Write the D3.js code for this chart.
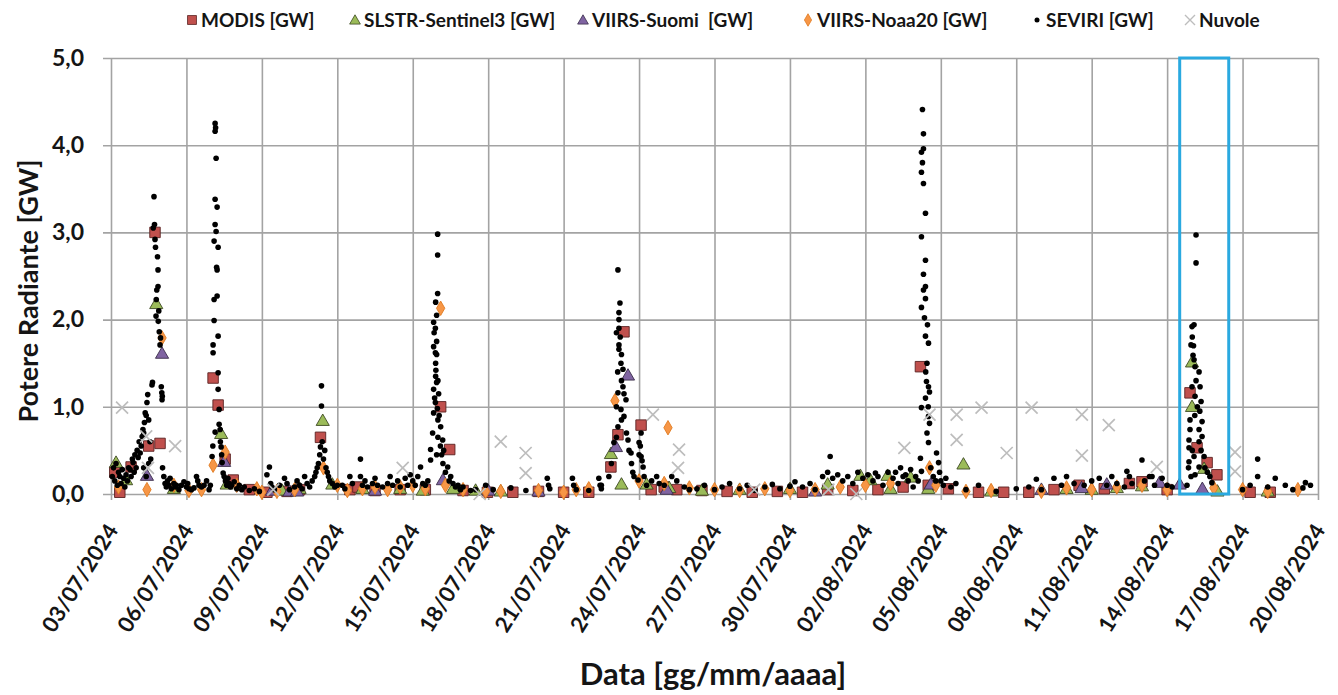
<!DOCTYPE html>
<html><head><meta charset="utf-8">
<script src="https://cdn.jsdelivr.net/npm/d3@7"></script>
<style>
html,body{margin:0;padding:0;background:#fff;}
svg text{font-family:Lato,"Liberation Sans",sans-serif;font-weight:700;fill:#151515;white-space:pre;}
</style></head>
<body><svg id="c" width="1338" height="695"></svg>
<script>
// ---------- DATA (day offsets from 03/07/2024 00:00, value in GW) ----------
const startDateStr = "03/07/2024";
const tickLabels = ["03/07/2024","06/07/2024","09/07/2024","12/07/2024","15/07/2024","18/07/2024","21/07/2024","24/07/2024","27/07/2024","30/07/2024","02/08/2024","05/08/2024","08/08/2024","11/08/2024","14/08/2024","17/08/2024","20/08/2024"];
const yTicks = [0,1,2,3,4,5];
const seriesNames = ["MODIS [GW]","SLSTR-Sentinel3 [GW]","VIIRS-Suomi  [GW]","VIIRS-Noaa20 [GW]","SEVIRI [GW]","Nuvole"];
const highlightRange = [42.5, 44.45];

const modis = [[0.15,0.25],[0.35,0.02],[0.8,0.31],[1.5,0.55],[1.95,0.58],[1.75,3.0],[4.06,1.33],[4.26,1.02],[4.54,0.4],[4.86,0.16],[5.5,0.05],[6.2,0.02],[7.0,0.03],[7.5,0.05],[8.33,0.65],[9.5,0.05],[9.82,0.08],[10.5,0.04],[11.5,0.05],[12.5,0.05],[13.11,1.0],[13.47,0.51],[14.0,0.04],[14.97,0.02],[15.98,0.02],[17.0,0.03],[18.0,0.02],[19.0,0.02],[19.88,0.31],[20.16,0.68],[20.4,1.86],[21.08,0.79],[21.48,0.05],[22.0,0.08],[22.5,0.05],[23.5,0.04],[24.5,0.03],[25.5,0.02],[26.5,0.03],[27.5,0.02],[28.5,0.05],[29.5,0.04],[30.5,0.05],[31.5,0.08],[32.19,1.46],[32.5,0.1],[33.3,0.06],[34.5,0.02],[35.5,0.02],[36.5,0.02],[37.5,0.05],[38.5,0.1],[39.5,0.06],[40.5,0.12],[41.0,0.14],[42.0,0.05],[42.91,1.16],[43.19,0.53],[43.59,0.36],[43.98,0.22],[45.3,0.02],[46.1,0.02]];

const slstr = [[0.2,0.35],[0.6,0.15],[1.8,2.17],[2.5,0.05],[4.38,0.68],[4.6,0.1],[6.8,0.03],[7.5,0.05],[8.42,0.83],[8.8,0.1],[10.0,0.05],[11.5,0.05],[12.4,0.03],[13.6,0.05],[14.5,0.03],[15.5,0.02],[19.88,0.45],[20.3,0.1],[21.3,0.1],[22.2,0.06],[23.5,0.03],[25.0,0.04],[27.0,0.05],[28.5,0.1],[29.8,0.2],[30.2,0.15],[30.88,0.2],[31.0,0.05],[31.8,0.18],[32.5,0.05],[33.9,0.33],[35.0,0.02],[38.0,0.05],[39.0,0.04],[40.0,0.06],[41.0,0.08],[42.99,1.5],[42.99,0.99],[43.47,0.28],[44.0,0.02],[46.0,0.02]];

const suomi = [[2.03,1.6],[1.43,0.2],[4.5,0.36],[6.4,0.03],[7.1,0.02],[7.4,0.02],[10.5,0.03],[13.2,0.15],[15.0,0.03],[17.0,0.02],[20.56,1.35],[20.08,0.53],[22.1,0.04],[28.0,0.02],[32.6,0.1],[37.0,0.04],[38.6,0.06],[39.6,0.1],[41.7,0.12],[42.5,0.1],[43.4,0.05]];

const noaa20 = [[0.3,0.08],[1.43,0.05],[2.03,1.79],[2.5,0.1],[3.1,0.04],[3.6,0.05],[4.06,0.33],[4.54,0.48],[5.0,0.1],[5.8,0.06],[6.0,0.02],[6.6,0.03],[7.3,0.05],[8.45,0.3],[9.0,0.1],[9.4,0.04],[10.0,0.06],[10.5,0.08],[11.0,0.05],[11.5,0.08],[12.0,0.1],[12.5,0.06],[13.11,2.13],[13.3,0.1],[14.0,0.05],[14.9,0.03],[15.5,0.03],[17.0,0.04],[18.0,0.02],[18.5,0.05],[19.0,0.06],[20.04,1.07],[21.0,0.15],[22.15,0.76],[22.0,0.12],[23.0,0.07],[24.0,0.05],[25.0,0.04],[26.0,0.06],[27.0,0.04],[28.0,0.05],[29.0,0.08],[30.0,0.1],[31.0,0.12],[32.55,0.3],[32.8,0.1],[34.0,0.03],[35.0,0.04],[37.0,0.03],[38.0,0.07],[39.0,0.05],[40.0,0.08],[41.0,0.1],[42.0,0.05],[43.86,0.07],[45.0,0.05],[46.0,0.03],[47.2,0.05]];

const seviri = [
[0.05,0.2],[0.1,0.3],[0.15,0.15],[0.2,0.35],[0.25,0.1],[0.3,0.25],[0.35,0.2],[0.4,0.12],[0.45,0.28],[0.5,0.18],[0.55,0.08],[0.6,0.22],[0.65,0.15],[0.7,0.3],[0.76,0.28],[0.8,0.2],[0.85,0.4],[0.88,0.36],[0.92,0.25],[0.95,0.45],[1.0,0.3],[1.04,0.5],[1.08,0.42],[1.12,0.6],[1.16,0.47],[1.2,0.55],[1.24,0.66],[1.27,0.74],[1.3,0.7],[1.33,0.82],[1.36,0.93],[1.4,0.9],[1.43,1.05],[1.46,1.14],[1.5,0.85],[1.55,0.6],[1.58,0.4],[1.3,0.3],[1.4,0.2],[1.5,0.35],[1.63,1.25],[1.65,1.28],[1.68,3.05],[1.71,3.41],[1.73,3.09],[1.75,2.92],[1.77,2.83],[1.79,2.04],[1.8,2.23],[1.82,2.34],[1.85,2.72],[1.87,2.57],[1.87,2.38],[1.88,1.98],[1.9,2.1],[1.92,1.86],[1.95,1.71],[1.97,1.79],[2.0,1.23],[2.02,1.16],[2.03,1.08],[2.04,1.12],[2.05,0.3],
[2.1,0.2],[2.15,0.12],[2.2,0.08],[2.25,0.15],[2.3,0.1],[2.35,0.18],[2.4,0.06],[2.5,0.12],[2.55,0.08],[2.6,0.1],[2.7,0.05],[2.8,0.1],[2.9,0.14],[3.0,0.08],[3.05,0.12],[3.1,0.06],[3.2,0.05],[3.3,0.07],[3.4,0.2],[3.45,0.15],[3.5,0.1],[3.6,0.08],[3.7,0.1],[3.8,0.15],[3.9,0.05],[3.95,0.1],
[4.14,4.25],[4.16,4.2],[4.14,4.16],[4.18,3.85],[4.14,3.38],[4.22,3.29],[4.14,3.09],[4.18,3.01],[4.1,2.9],[4.26,2.83],[4.22,2.57],[4.2,2.6],[4.1,2.23],[4.22,2.27],[4.1,1.99],[4.06,1.71],[4.26,1.81],[4.06,1.62],[4.26,1.39],[4.26,1.2],[4.3,0.97],[4.34,0.74],[4.14,0.71],[4.38,0.54],[4.02,0.43],[4.42,0.36],[4.46,0.24],[4.05,0.55],[4.3,0.8],[4.35,0.6],[4.4,0.45],
[4.5,0.2],[4.55,0.15],[4.6,0.1],[4.65,0.18],[4.7,0.12],[4.75,0.08],[4.8,0.1],[4.9,0.14],[5.0,0.06],[5.1,0.1],[5.2,0.05],[5.3,0.08],[5.5,0.04],[5.7,0.06],[5.9,0.03],
[6.2,0.22],[6.3,0.31],[6.35,0.12],[6.4,0.08],[6.5,0.05],[6.7,0.1],[6.9,0.18],[7.0,0.12],[7.1,0.05],[7.3,0.08],[7.4,0.15],[7.5,0.1],[7.6,0.06],[7.7,0.2],[7.8,0.12],[7.9,0.08],
[8.37,1.24],[8.37,1.01],[8.33,0.54],[8.3,0.45],[8.4,0.6],[8.25,0.35],[8.45,0.4],[8.5,0.5],[8.2,0.3],[8.55,0.3],[8.6,0.25],[8.65,0.2],[8.7,0.15],[8.15,0.25],[8.1,0.2],[8.0,0.15],[8.8,0.12],[8.9,0.08],[9.0,0.1],
[9.2,0.1],[9.3,0.06],[9.5,0.2],[9.6,0.12],[9.92,0.4],[9.92,0.2],[10.0,0.1],[10.1,0.15],[10.2,0.08],[10.4,0.12],[10.5,0.18],[10.6,0.1],[10.8,0.08],[11.0,0.12],[11.1,0.2],[11.2,0.1],[11.4,0.15],[11.5,0.08],[11.7,0.18],[11.8,0.1],[11.9,0.22],[12.0,0.15],[12.1,0.1],[12.2,0.2],[12.4,0.12],[12.5,0.1],[12.6,0.15],
[12.99,2.98],[12.99,2.74],[12.99,2.3],[12.91,2.2],[12.95,2.05],[12.83,1.97],[12.9,1.9],[12.85,1.85],[12.95,1.75],[12.83,1.69],[12.9,1.62],[12.95,1.6],[12.91,1.5],[12.92,1.42],[12.91,1.35],[13.0,1.3],[12.95,1.28],[12.83,1.2],[13.03,1.15],[12.87,1.1],[12.9,1.05],[12.98,0.98],[12.83,0.93],[13.05,0.9],[13.0,0.85],[13.11,0.77],[12.79,0.7],[13.0,0.65],[13.19,0.62],[13.1,0.55],[12.71,0.51],[13.23,0.5],[12.95,0.45],[13.15,0.45],[12.71,0.39],[13.2,0.35],[13.39,0.31],[12.31,0.31],[13.3,0.25],[13.51,0.2],[13.45,0.15],[13.6,0.12],[13.7,0.08],
[13.8,0.1],[13.9,0.05],[14.0,0.08],[14.3,0.04],[14.5,0.05],[14.9,0.1],[15.2,0.05],[15.9,0.07],[16.5,0.04],[17.35,0.18],[17.4,0.1],[17.45,0.06],[18.35,0.18],[18.4,0.1],[18.5,0.05],[19.0,0.04],[19.4,0.18],[19.45,0.1],[19.5,0.06],
[20.16,2.57],[20.24,2.19],[20.2,2.08],[20.2,2.0],[20.1,1.85],[20.2,1.9],[20.25,1.8],[20.2,1.71],[20.2,1.66],[20.3,1.6],[20.28,1.5],[20.36,1.43],[20.15,1.4],[20.3,1.3],[20.36,1.23],[20.16,1.16],[20.4,1.15],[20.48,1.08],[20.1,1.0],[20.28,0.97],[20.4,0.89],[20.3,0.85],[20.16,0.77],[20.5,0.7],[20.1,0.65],[20.56,0.62],[20.0,0.59],[20.6,0.5],[20.68,0.47],[20.7,0.35],[20.75,0.25],[20.8,0.2],[19.9,0.35],[19.8,0.2],[19.5,0.1],
[21.08,0.7],[21.0,0.59],[21.05,0.55],[21.0,0.45],[21.08,0.43],[21.12,0.38],[21.16,0.31],[21.2,0.2],[20.96,0.16],[21.3,0.1],[21.5,0.15],[21.7,0.2],[21.8,0.12],[22.0,0.1],[22.3,0.2],[22.5,0.15],[22.8,0.08],[23.0,0.05],
[23.3,0.06],[23.6,0.1],[24.0,0.05],[24.3,0.08],[24.6,0.12],[25.0,0.06],[25.3,0.1],[25.6,0.04],[26.0,0.08],[26.3,0.11],[26.6,0.06],[27.0,0.09],[27.2,0.14],[27.5,0.08],[27.8,0.12],[28.0,0.05],
[28.6,0.43],[28.3,0.2],[28.5,0.25],[28.7,0.18],[28.9,0.22],[29.1,0.15],[29.3,0.2],[29.5,0.12],[29.7,0.25],[29.9,0.18],[30.1,0.22],[30.3,0.15],[30.4,0.24],[30.5,0.2],[30.7,0.1],[30.9,0.25],[31.1,0.18],[31.2,0.25],[31.3,0.12],[31.4,0.3],[31.5,0.2],[31.6,0.22],[31.7,0.15],[31.8,0.28],[31.9,0.08],[32.0,0.2],[32.1,0.15],
[32.27,4.41],[32.31,4.13],[32.31,3.96],[32.23,3.92],[32.27,3.8],[32.23,3.69],[32.31,3.56],[32.39,3.22],[32.23,2.95],[32.39,2.68],[32.31,2.52],[32.39,2.38],[32.31,2.34],[32.39,2.24],[32.23,2.14],[32.35,2.02],[32.47,1.94],[32.39,1.81],[32.51,1.73],[32.45,1.5],[32.4,1.4],[32.43,1.29],[32.51,1.23],[32.55,1.17],[32.39,1.1],[32.5,1.0],[32.23,0.99],[32.51,0.89],[32.55,0.81],[32.45,0.7],[32.51,0.59],[32.83,0.47],[32.19,0.41],[32.91,0.36],[32.23,0.26],[32.6,0.3],[32.7,0.2],[32.8,0.15],[32.95,0.25],[33.0,0.15],[33.1,0.1],[33.2,0.18],[33.4,0.08],[33.6,0.12],
[34.0,0.05],[34.5,0.1],[35.2,0.03],[36.0,0.06],[36.5,0.08],[36.8,0.17],[37.0,0.05],[37.5,0.18],[37.8,0.1],[38.0,0.2],[38.3,0.12],[38.7,0.1],[39.0,0.15],[39.3,0.18],[39.6,0.1],[39.8,0.2],[40.0,0.12],[40.3,0.08],[40.4,0.26],[40.5,0.2],[40.6,0.12],[41.0,0.39],[41.1,0.15],[41.3,0.2],[41.4,0.2],[41.5,0.1],[41.8,0.18],[42.0,0.1],[42.2,0.08],
[43.15,2.97],[43.15,2.65],[43.07,1.94],[42.99,1.92],[43.0,1.8],[42.95,1.71],[43.05,1.7],[43.03,1.59],[43.07,1.54],[43.11,1.46],[43.27,1.4],[43.15,1.3],[42.99,1.23],[43.31,1.23],[43.11,1.12],[43.35,1.06],[43.2,1.0],[43.3,0.95],[43.1,0.9],[42.91,0.85],[43.39,0.83],[43.27,0.74],[42.91,0.74],[43.39,0.66],[42.87,0.62],[43.27,0.6],[42.87,0.53],[43.0,0.5],[43.35,0.5],[43.07,0.43],[43.47,0.43],[42.87,0.37],[43.27,0.31],[43.5,0.3],[42.85,0.3],[43.6,0.25],[43.11,0.22],[43.7,0.2],[42.95,0.2],[43.78,0.13],[42.79,0.1],
[45.0,0.05],[45.3,0.1],[45.6,0.4],[45.6,0.2],[46.0,0.08],[46.3,0.18],[46.7,0.1],[47.0,0.05],[47.4,0.07],[47.5,0.13],[47.7,0.1]
];

const nuvole = [[0.44,0.99],[1.4,0.66],[1.47,0.3],[2.55,0.55],[6.45,0.05],[11.6,0.3],[14.66,0.0],[15.5,0.6],[16.49,0.47],[16.49,0.24],[21.55,0.91],[22.59,0.51],[22.55,0.3],[25.58,0.05],[28.53,0.05],[29.64,0.0],[31.55,0.53],[32.55,0.91],[33.63,0.91],[34.62,0.99],[33.63,0.62],[35.62,0.47],[36.61,0.99],[38.61,0.91],[39.68,0.79],[38.61,0.44],[41.59,0.31],[44.7,0.48],[44.7,0.26]];

// ---------- CHART ----------
const svg = d3.select("#c");
const parse = d3.utcParse("%d/%m/%Y");
const t0 = parse(startDateStr);
const toDate = d => new Date(t0.getTime() + d * 864e5);
const tickDates = tickLabels.map(parse);

const L = 111, R = 1318, T = 58, B = 494;
const x = d3.scaleUtc().domain([tickDates[0], tickDates[tickDates.length-1]]).range([L, R]);
const y = d3.scaleLinear().domain([0, 5]).range([B, T]);
const itFmt = d3.formatLocale({decimal: ",", thousands: ".", grouping: [3], currency: ["€",""]}).format(".1f");

const gridColor = "#a3a3a3";
const gx = svg.append("g").attr("transform", `translate(0,${B})`)
  .call(d3.axisBottom(x).tickValues(tickDates).tickSize(6).tickSizeOuter(0).tickFormat((d,i) => tickLabels[i]));
gx.select(".domain").remove();
gx.selectAll(".tick line").attr("stroke", gridColor).attr("stroke-width", 1.6).attr("y1", -(B-T)).attr("y2", 6);
gx.selectAll(".tick text")
  .attr("transform", "translate(1,32) rotate(-58)")
  .attr("text-anchor", "end").attr("dy", "0.35em").attr("x", 0).attr("y", 0)
  .style("font-size", "22px").style("fill", "#151515");

const gy = svg.append("g").attr("transform", `translate(${L},0)`)
  .call(d3.axisLeft(y).tickValues(yTicks).tickSize(8).tickFormat(itFmt));
gy.select(".domain").remove();
gy.selectAll(".tick line").attr("stroke", gridColor).attr("stroke-width", 1.6).attr("x1", -8).attr("x2", R - L);
gy.selectAll(".tick text").attr("x", -27).style("font-size", "23px").style("fill","#151515");

svg.append("text").attr("transform", `translate(38,${291}) rotate(-90)`).attr("text-anchor","middle")
  .style("font-size","27px").text("Potere Radiante [GW]");
svg.append("text").attr("x", 713).attr("y", 685).attr("text-anchor","middle")
  .style("font-size","31px").text("Data [gg/mm/aaaa]");

const plot = svg.append("g");
const sq = d3.symbol().type(d3.symbolSquare).size(110);
const tri = d3.symbol().type(d3.symbolTriangle).size(75);
const dia = d3.symbol().type(d3.symbolDiamond).size(60);

function drawSym(data, gen, fill, stroke) {
  plot.append("g").selectAll("path").data(data).join("path")
    .attr("d", gen).attr("transform", d => `translate(${x(toDate(d[0]))},${y(d[1])})`)
    .attr("fill", fill).attr("stroke", stroke).attr("stroke-width", 0.9);
}
drawSym(modis, sq, "#c0504d", "#5a2322");
drawSym(slstr, tri, "#9bbb59", "#3d4a22");
drawSym(suomi, tri, "#8064a2", "#3a2d4a");
drawSym(noaa20, dia, "#f79646", "#e07a20");
plot.append("g").selectAll("circle").data(seviri).join("circle")
  .attr("cx", d => x(toDate(d[0]))).attr("cy", d => y(d[1])).attr("r", 2.8).attr("fill", "#000");
const cs = 6;
plot.append("g").selectAll("path").data(nuvole).join("path")
  .attr("d", d => { const cx = x(toDate(d[0])), cy = y(d[1]);
    return `M${cx-cs},${cy-cs}L${cx+cs},${cy+cs}M${cx-cs},${cy+cs}L${cx+cs},${cy-cs}`; })
  .attr("stroke", "#bdbdbd").attr("stroke-width", 1.7).attr("fill", "none");

svg.append("rect")
  .attr("x", x(toDate(highlightRange[0]))).attr("y", T)
  .attr("width", x(toDate(highlightRange[1])) - x(toDate(highlightRange[0])))
  .attr("height", B - T)
  .attr("fill", "none").attr("stroke", "#2aa9e0").attr("stroke-width", 3);

const legX = [192, 355, 583, 808, 1037, 1190];
const lg = svg.append("g");
seriesNames.forEach((name, i) => {
  const cx = legX[i], cy = 20;
  const g = lg.append("g");
  if (i === 0) g.append("path").attr("d", d3.symbol().type(d3.symbolSquare).size(80)()).attr("transform",`translate(${cx},${cy})`).attr("fill","#c0504d").attr("stroke","#5a2322").attr("stroke-width",0.8);
  if (i === 1) g.append("path").attr("d", d3.symbol().type(d3.symbolTriangle).size(50)()).attr("transform",`translate(${cx},${cy+1})`).attr("fill","#9bbb59").attr("stroke","#3d4a22").attr("stroke-width",0.8);
  if (i === 2) g.append("path").attr("d", d3.symbol().type(d3.symbolTriangle).size(50)()).attr("transform",`translate(${cx},${cy+1})`).attr("fill","#8064a2").attr("stroke","#3a2d4a").attr("stroke-width",0.8);
  if (i === 3) g.append("path").attr("d", d3.symbol().type(d3.symbolDiamond).size(45)()).attr("transform",`translate(${cx},${cy})`).attr("fill","#f79646").attr("stroke","#e07a20").attr("stroke-width",0.8);
  if (i === 4) g.append("circle").attr("cx", cx).attr("cy", cy).attr("r", 2.5).attr("fill","#000");
  if (i === 5) g.append("path").attr("d", `M${cx-5},${cy-5}L${cx+5},${cy+5}M${cx-5},${cy+5}L${cx+5},${cy-5}`).attr("stroke","#bdbdbd").attr("stroke-width",1.4);
  g.append("text").attr("x", cx + 9).attr("y", cy).attr("dy","0.35em").style("font-size","19px").text(name);
});
</script></body></html>
